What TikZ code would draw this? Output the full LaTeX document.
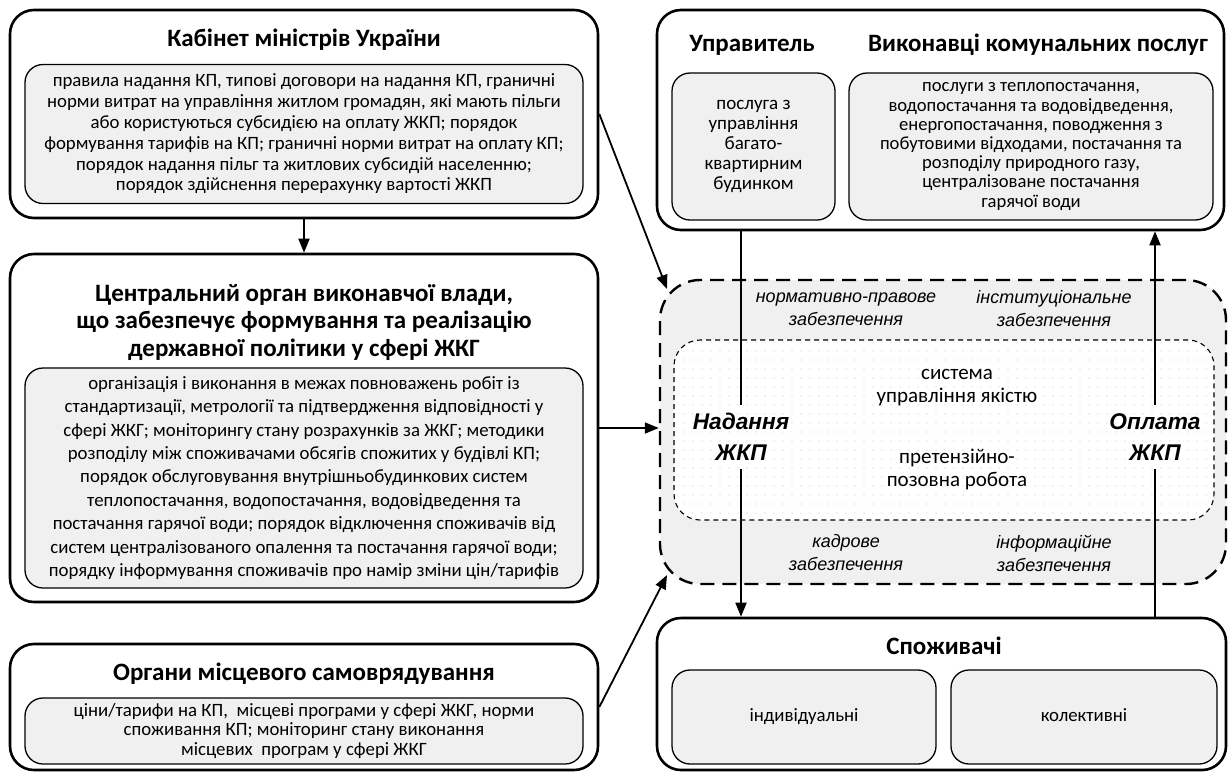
\documentclass[tikz,border=0pt]{standalone}
\usepackage{fontspec}
\setmainfont{Carlito}
\newfontfamily\arialfont{Liberation Sans}
\usepackage{tikz}
\usetikzlibrary{arrows.meta, positioning, patterns.meta}
\definecolor{boxgray}{HTML}{F0F0F0}
\definecolor{dotgray}{HTML}{C8C8C8}

\begin{document}
\begin{tikzpicture}[x=1pt, y=-1pt,
  outer/.style={draw, line width=2.6pt, rounded corners=24pt, inner sep=0pt},
  inner/.style={draw, line width=1.3pt, rounded corners=18pt, fill=boxgray, inner sep=0pt, align=center, font=\fontsize{18.8}{20.8}\selectfont},
  head/.style={font=\bfseries\fontsize{25}{28}\selectfont, align=center},
  note/.style={font=\arialfont\itshape\fontsize{18}{23}\selectfont, align=center},
  flow/.style={font=\arialfont\bfseries\itshape\fontsize{22.7}{31}\selectfont, align=center, inner sep=8pt},
  link/.style={line width=1.8pt, -{Triangle[length=14pt, width=11pt]}},
]
  \useasboundingbox (0,0) rectangle (1230,774);

  % left column
  \node[outer, minimum width=588pt, minimum height=208pt] (kmu) at (304,114) {};
  \node[head] (kmuhead) at (304,40) {Кабінет міністрів України};
  \node[inner, minimum width=558pt, minimum height=139pt] (kmutext) at (304,134)
    {правила надання КП, типові договори на надання КП, граничні\\
     норми витрат на управління житлом громадян, які мають пільги\\
     або користуються субсидією на оплату ЖКП; порядок\\
     формування тарифів на КП; граничні норми витрат на оплату КП;\\
     порядок надання пільг та житлових субсидій населенню;\\
     порядок здійснення перерахунку вартості ЖКП};

  \node[outer, minimum width=588pt, minimum height=348pt] (cov) at (304,428) {};
  \node[head, font=\bfseries\fontsize{25}{27.5}\selectfont] (covhead) at (304,322)
    {Центральний орган виконавчої влади,\\
     що забезпечує формування та реалізацію\\
     державної політики у сфері ЖКГ};
  \node[inner, minimum width=558pt, minimum height=220pt, font=\fontsize{18.8}{23.4}\selectfont] (covtext) at (304,478)
    {організація і виконання в межах повноважень робіт із\\
     стандартизації, метрології та підтвердження відповідності у\\
     сфері ЖКГ; моніторингу стану розрахунків за ЖКГ; методики\\
     розподілу між споживачами обсягів спожитих у будівлі КП;\\
     порядок обслуговування внутрішньобудинкових систем\\
     теплопостачання, водопостачання, водовідведення та\\
     постачання гарячої води; порядок відключення споживачів від\\
     систем централізованого опалення та постачання гарячої води;\\
     порядку інформування споживачів про намір зміни цін/тарифів};

  \node[outer, minimum width=588pt, minimum height=126pt] (oms) at (304,707) {};
  \node[head] (omshead) at (304,674) {Органи місцевого самоврядування};
  \node[inner, minimum width=558pt, minimum height=66pt, font=\fontsize{18.8}{19.5}\selectfont] (omstext) at (304,731)
    {ціни/тарифи на КП,\ \ місцеві програми у сфері ЖКГ, норми\\
     споживання КП; моніторинг стану виконання\\
     місцевих\ \ програм у сфері ЖКГ};

  % right column
  \node[outer, minimum width=567pt, minimum height=220pt] (top) at (940.5,120) {};
  \node[head] (uprhead) at (752,45) {Управитель};
  \node[head] (vykhead) at (1038,45) {Виконавці комунальних послуг};
  \node[inner, minimum width=163pt, minimum height=147pt, font=\fontsize{19}{20.2}\selectfont] (uprtext) at (753.5,146.5)
    {послуга з\\управління\\багато-\\квартирним\\будинком};
  \node[inner, minimum width=364pt, minimum height=147pt, font=\fontsize{18.6}{19.2}\selectfont] (vyktext) at (1031,146.5)
    {послуги з теплопостачання,\\
     водопостачання та водовідведення,\\
     енергопостачання, поводження з\\
     побутовими відходами, постачання та\\
     розподілу природного газу,\\
     централізоване постачання\\
     гарячої води};

  \node[draw, line width=2.4pt, dash pattern=on 14pt off 8pt, rounded corners=40pt, fill=boxgray,
        minimum width=566pt, minimum height=304pt] (zabez) at (943,432) {};
  \node[draw, line width=1.1pt, dash pattern=on 5pt off 4pt, rounded corners=26pt,
        preaction={fill=white}, pattern={Dots[distance=9pt, radius=0.7pt]}, pattern color=dotgray,
        minimum width=540pt, minimum height=180pt] (quality) at (944,430) {};

  \node[note] (normlab) at (846,309) {нормативно-правове\\забезпечення};
  \node[note] (instlab) at (1054,309) {інституціональне\\забезпечення};
  \node[note] (kadrlab) at (846,553) {кадрове\\забезпечення};
  \node[note] (infolab) at (1054,553) {інформаційне\\забезпечення};
  \node[align=center, font=\fontsize{21}{23}\selectfont] (qlab) at (957,388) {система\\управління якістю};
  \node[align=center, font=\fontsize{21}{23}\selectfont] (plab) at (957,469) {претензійно-\\позовна робота};
  \node[flow] (nad) at (741,437) {Надання\\ЖКП};
  \node[flow] (opl) at (1155,437) {Оплата\\ЖКП};

  \node[outer, minimum width=569pt, minimum height=152pt] (spoz) at (941.5,694) {};
  \node[head] (spozhead) at (944,646) {Споживачі};
  \node[inner, minimum width=264pt, minimum height=94pt, text height=13pt, text depth=4pt] (ind) at (804,717) {індивідуальні};
  \node[inner, minimum width=266pt, minimum height=94pt, text height=13pt, text depth=4pt] (kol) at (1084,717) {колективні};

  \coordinate (nwtip) at (667,289);
  \coordinate (swtip) at (667,575);

  % connectors
  \draw[link] (kmu.south) -- (cov.north);
  \draw[link] (kmu.east) -- (nwtip);
  \draw[link] (cov.east) -- (cov.east -| zabez.west);
  \draw[link] (oms.east) -- (swtip);
  \draw[line width=1.8pt] (top.south -| nad) -- (nad.north);
  \draw[link] (nad.south) -- (spoz.north -| nad);
  \draw[line width=1.8pt] (spoz.north -| opl) -- (opl.south);
  \draw[link] (opl.north) -- (top.south -| opl);
\end{tikzpicture}
\end{document}
